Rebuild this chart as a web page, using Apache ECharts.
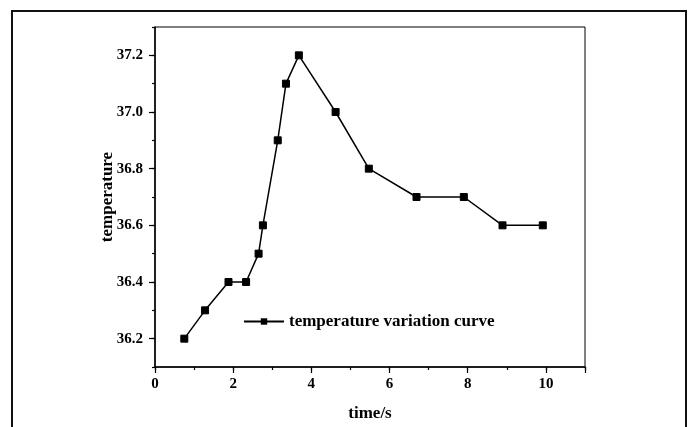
<!DOCTYPE html>
<html>
<head>
<meta charset="utf-8">
<script src="https://cdn.jsdelivr.net/npm/echarts@6/dist/echarts.min.js"></script>
<style>html,body{margin:0;padding:0;background:#fff;}#c{width:691px;height:427px;}</style>
</head>
<body>
<div id="c"></div>
<script>
const seriesName = 'temperature variation curve';
const timeValues = [0.75, 1.28, 1.88, 2.33, 2.65, 2.76, 3.14, 3.35, 3.68, 4.62, 5.47, 6.69, 7.90, 8.89, 9.92];
const tempValues = [36.2, 36.3, 36.4, 36.4, 36.5, 36.6, 36.9, 37.1, 37.2, 37.0, 36.8, 36.7, 36.7, 36.6, 36.6];
const xTitle = 'time/s';
const yTitle = 'temperature';

const FONT = '"Liberation Serif", "DejaVu Serif", serif';
const chart = echarts.init(document.getElementById('c'), null, {renderer: 'canvas'});
const pts = timeValues.map((t, i) => [t, tempValues[i]]);
const axisText = {color: '#000', fontFamily: FONT, fontWeight: 'bold', fontSize: 15};
const nameText = {color: '#000', fontFamily: FONT, fontWeight: 'bold', fontSize: 17};

chart.setOption({
  animation: false,
  backgroundColor: '#fff',
  graphic: [{
    type: 'rect', shape: {x: 12, y: 11, width: 674, height: 460},
    style: {fill: 'none', stroke: '#111', lineWidth: 2}, silent: true, z: 100
  }],
  grid: {left: 155, top: 27, right: 106, bottom: 55, show: true, borderColor: '#000', borderWidth: 1, backgroundColor: 'transparent'},
  legend: {
    left: 238, top: 308, itemWidth: 40, itemHeight: 8, itemGap: 6,
    textStyle: {color: '#000', fontFamily: FONT, fontWeight: 'bold', fontSize: 17},
    data: [seriesName]
  },
  xAxis: [{
    type: 'value', min: 0, max: 11, interval: 1, position: 'bottom',
    axisLine: {show: true, lineStyle: {color: '#000', width: 1.5}},
    axisTick: {show: true, length: 3, inside: false, lineStyle: {color: '#000', width: 1.2}},
    axisLabel: {show: false},
    splitLine: {show: false},
    name: xTitle, nameLocation: 'middle', nameGap: 38, nameMoveOverlap: false, nameTextStyle: nameText
  }, {
    type: 'value', min: 0, max: 11, interval: 2, position: 'bottom', offset: 0,
    axisLine: {show: false},
    axisTick: {show: true, length: 6, inside: false, lineStyle: {color: '#000', width: 1.2}},
    axisLabel: Object.assign({margin: 10, formatter: v => (v > 10.5 ? '' : String(v))}, axisText),
    splitLine: {show: false}
  }],
  yAxis: [{
    type: 'value', min: 36.1, max: 37.3, interval: 0.1, position: 'left',
    axisLine: {show: true, lineStyle: {color: '#000', width: 1.5}},
    axisTick: {show: true, length: 3, inside: false, lineStyle: {color: '#000', width: 1.2}},
    axisLabel: Object.assign({margin: 12, formatter: v => (Math.round(v * 10) % 2 === 0 ? v.toFixed(1) : '')}, axisText),
    splitLine: {show: false},
    name: yTitle, nameLocation: 'middle', nameGap: 39, nameRotate: 90, nameMoveOverlap: false, nameTextStyle: nameText
  }, {
    type: 'value', min: 36.1, max: 37.3, interval: 0.2, position: 'left', offset: 0,
    axisLine: {show: false},
    axisTick: {show: false},
    minorTick: {show: true, splitNumber: 2, length: 6, lineStyle: {color: '#000', width: 1.2}},
    axisLabel: {show: false},
    splitLine: {show: false}
  }],
  series: [{
    name: seriesName, type: 'line', xAxisIndex: 0, yAxisIndex: 0,
    data: pts, symbol: 'rect', symbolSize: 7, showSymbol: true,
    lineStyle: {color: '#000', width: 1.5},
    itemStyle: {color: '#000', borderColor: '#000'}
  }]
});
</script>
</body>
</html>
